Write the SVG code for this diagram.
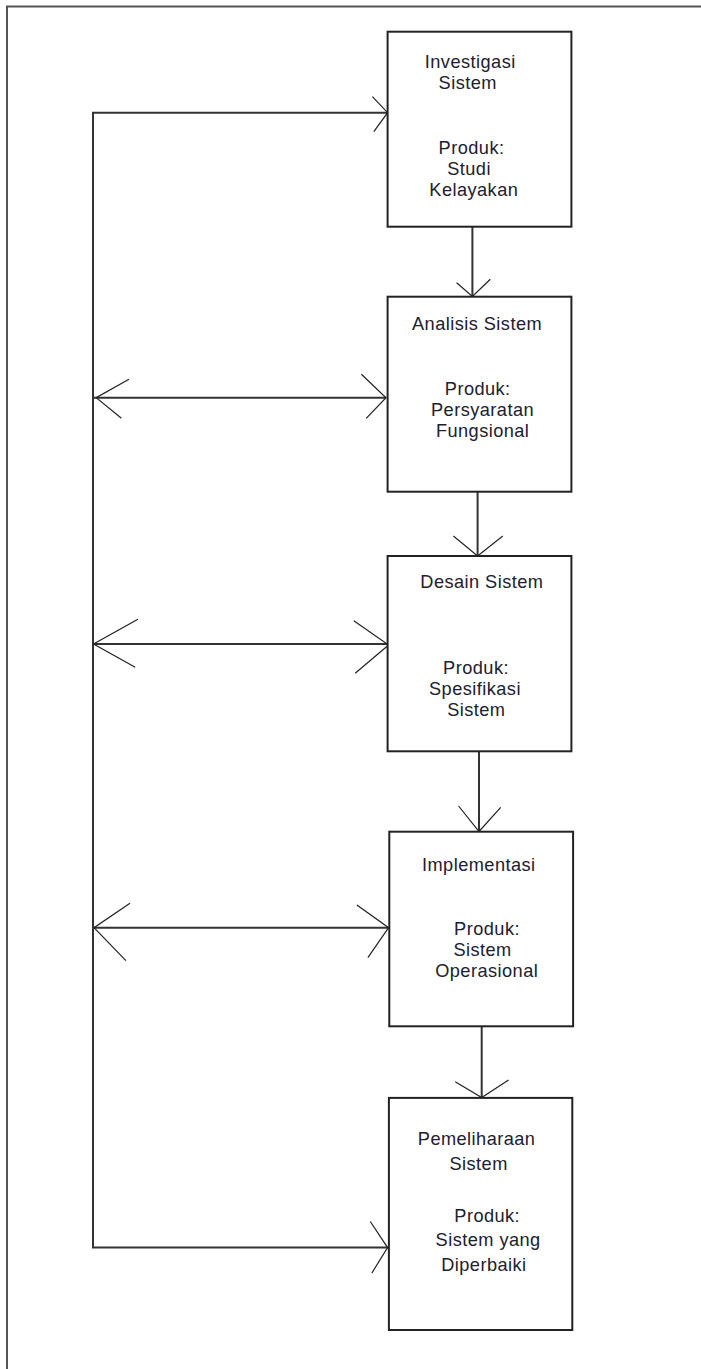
<svg xmlns="http://www.w3.org/2000/svg" width="701" height="1369" viewBox="0 0 701 1369">
<style>
.frame{fill:none;stroke:#555;stroke-width:2}
.box{fill:#fff;stroke:#222;stroke-width:2}
.t{font-family:"Liberation Sans",Arial,sans-serif;font-size:18.2px;letter-spacing:0.45px;fill:#202030}
.ln{fill:none;stroke:#333;stroke-width:2}
.hd{fill:none;stroke:#222;stroke-width:1.2}
</style>
<rect width="701" height="1369" fill="#fff"/>
<path class="frame" d="M7,1369 V6.5 H701"/>
<g id="connectors">
  <path class="ln" d="M388,112.7 H93 V1247.6 H388"/>
  <polyline class="hd" points="372.4,96.7 387.6,112.7 373.8,131.7"/>
  <polyline class="hd" points="370.3,1221.5 387.6,1247.6 371.9,1273"/>
  <line class="ln" x1="93" y1="397.7" x2="386" y2="397.7"/>
  <polyline class="hd" points="129,379.3 96.2,397.7 121.4,418.3"/>
  <polyline class="hd" points="361.4,374.3 386,397.7 366.2,418.3"/>
  <line class="ln" x1="93" y1="644" x2="388" y2="644"/>
  <polyline class="hd" points="137.9,619.3 93.5,644 135.2,667.3"/>
  <polyline class="hd" points="353.8,620.7 388.6,645 355.2,673.3"/>
  <line class="ln" x1="93" y1="927.7" x2="388.6" y2="927.7"/>
  <polyline class="hd" points="130,903.3 94,927.7 125.9,960.7"/>
  <polyline class="hd" points="356.9,905 388.6,927.7 367.9,957.7"/>
  <line class="ln" x1="472.4" y1="227" x2="472.4" y2="296.5"/>
  <polyline class="hd" points="456.6,282.7 472.4,296.5 490.3,279.3"/>
  <line class="ln" x1="477.6" y1="492" x2="477.6" y2="556"/>
  <polyline class="hd" points="453.4,536 477.6,556 502.8,536"/>
  <line class="ln" x1="479" y1="751.5" x2="479" y2="831.5"/>
  <polyline class="hd" points="458.6,806 479,831.5 500.7,807.3"/>
  <line class="ln" x1="481.7" y1="1026.5" x2="481.7" y2="1097.5"/>
  <polyline class="hd" points="455.2,1081.7 481.7,1097.5 508.6,1080"/>
</g>
<g id="investigasi">
  <rect class="box" x="387.6" y="31.7" width="183.8" height="195"/>
  <text class="t" x="424.8" y="67.7">Investigasi</text>
  <text class="t" x="438.6" y="88.7">Sistem</text>
  <text class="t" x="438.6" y="154">Produk:</text>
  <text class="t" x="447.2" y="175">Studi</text>
  <text class="t" x="429.3" y="196">Kelayakan</text>
</g>
<g id="analisis">
  <rect class="box" x="387.6" y="296.7" width="183.8" height="195"/>
  <text class="t" x="412" y="330">Analisis Sistem</text>
  <text class="t" x="444.8" y="395">Produk:</text>
  <text class="t" x="431" y="416">Persyaratan</text>
  <text class="t" x="435.9" y="437">Fungsional</text>
</g>
<g id="desain">
  <rect class="box" x="387.6" y="556" width="183.8" height="195.3"/>
  <text class="t" x="420.3" y="587.7">Desain Sistem</text>
  <text class="t" x="443.1" y="674.3">Produk:</text>
  <text class="t" x="429" y="695.3">Spesifikasi</text>
  <text class="t" x="447.2" y="716.3">Sistem</text>
</g>
<g id="implementasi">
  <rect class="box" x="389.3" y="831.7" width="183.8" height="194.6"/>
  <text class="t" x="422" y="870.7">Implementasi</text>
  <text class="t" x="454.1" y="935">Produk:</text>
  <text class="t" x="453.4" y="956.3">Sistem</text>
  <text class="t" x="435.2" y="977.3">Operasional</text>
</g>
<g id="pemeliharaan">
  <rect class="box" x="388.9" y="1097.9" width="183.4" height="232.1"/>
  <text class="t" x="417.8" y="1144.7">Pemeliharaan</text>
  <text class="t" x="449.5" y="1170">Sistem</text>
  <text class="t" x="454.3" y="1221.5">Produk:</text>
  <text class="t" x="435.6" y="1246.4">Sistem yang</text>
  <text class="t" x="441.2" y="1271.4">Diperbaiki</text>
</g>
</svg>
